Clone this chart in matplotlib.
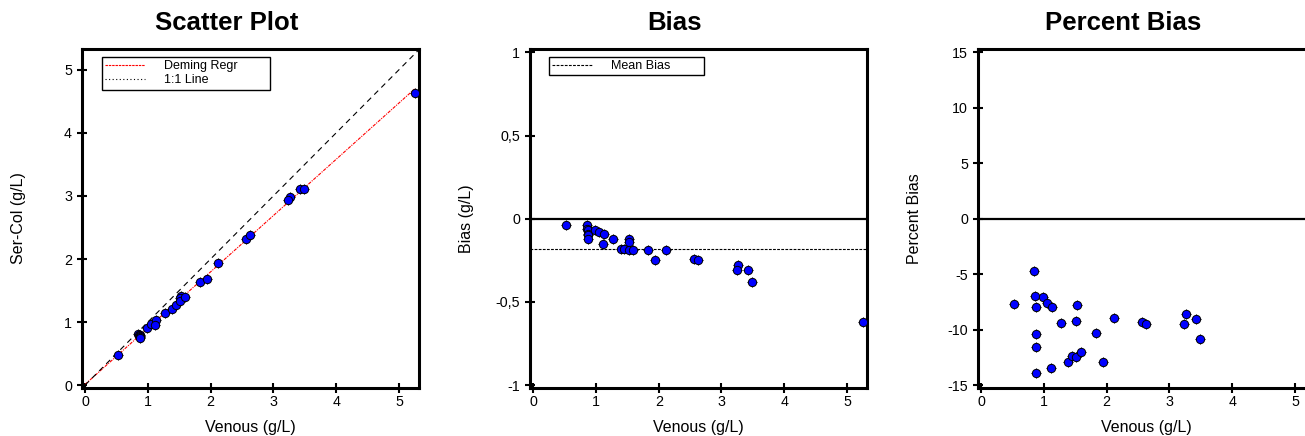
import numpy as np
import matplotlib
matplotlib.use("Agg")
import matplotlib.pyplot as plt
from matplotlib.lines import Line2D
from matplotlib.ticker import FixedLocator, FixedFormatter, AutoMinorLocator

plt.rcParams['font.family'] = ['Liberation Sans', 'DejaVu Sans']
plt.rcParams['axes.unicode_minus'] = False

# ---------------- data ----------------
venous = [0.52, 0.85, 0.86, 0.87, 0.87, 0.87, 0.87, 0.98, 1.05, 1.13,
          1.11, 1.27, 1.53, 1.52, 1.39, 1.45, 1.52, 1.59, 1.83, 1.94,
          2.12, 2.56, 2.63, 3.26, 3.24, 3.42, 3.49, 5.25]
sercol = [0.48, 0.81, 0.80, 0.80, 0.78, 0.77, 0.75, 0.91, 0.97, 1.04,
          0.96, 1.15, 1.41, 1.38, 1.21, 1.27, 1.33, 1.40, 1.64, 1.69,
          1.93, 2.32, 2.38, 2.98, 2.93, 3.11, 3.11, 4.63]
bias = [-0.04, -0.04, -0.06, -0.07, -0.09, -0.10, -0.12, -0.07, -0.08, -0.09,
        -0.15, -0.12, -0.12, -0.14, -0.18, -0.18, -0.19, -0.19, -0.19, -0.25,
        -0.19, -0.24, -0.25, -0.28, -0.31, -0.31, -0.38, -0.62]
pct_bias = [-7.66, -4.69, -6.94, -7.99, -10.43, -11.60, -13.90, -7.09, -7.57, -7.93,
            -13.50, -9.41, -7.81, -9.20, -12.92, -12.41, -12.47, -11.99, -10.34, -12.92,
            -8.93, -9.31, -9.47, -8.57, -9.52, -9.04, -10.88, -11.81]

titles = ["Scatter Plot", "Bias", "Percent Bias"]
xlabel = "Venous (g/L)"
ylabels = ["Ser-Col (g/L)", "Bias (g/L)", "Percent Bias"]
legend1_labels = ["Deming Regr", "1:1 Line"]
legend2_labels = ["Mean Bias"]

x_ticks = [0, 1, 2, 3, 4, 5]
x_ticklabels = ["0", "1", "2", "3", "4", "5"]
y1_ticks = [0, 1, 2, 3, 4, 5]
y1_ticklabels = ["0", "1", "2", "3", "4", "5"]
y2_ticks = [-1, -0.5, 0, 0.5, 1]
y2_ticklabels = ["-1", "-0,5", "0", "0,5", "1"]
y3_ticks = [-15, -10, -5, 0, 5, 10, 15]
y3_ticklabels = ["-15", "-10", "-5", "0", "5", "10", "15"]

x = np.array(venous)
y = np.array(sercol)
b = np.array(bias)
p = np.array(pct_bias)

# Deming regression (lambda = 1)
mx, my = x.mean(), y.mean()
sxx = np.sum((x - mx) ** 2)
syy = np.sum((y - my) ** 2)
sxy = np.sum((x - mx) * (y - my))
slope = (syy - sxx + np.sqrt((syy - sxx) ** 2 + 4 * sxy ** 2)) / (2 * sxy)
intercept = my - slope * mx
mean_bias = b.mean()

# ---------------- figure ----------------
W, H = 1305, 436
fig = plt.figure(figsize=(W / 100, H / 100), dpi=100)

def px_axes(l, r, t, bt):
    return fig.add_axes([l / W, 1 - bt / H, (r - l) / W, (bt - t) / H])

ax1 = px_axes(81.7, 419.0, 49.0, 387.7)
ax2 = px_axes(530.0, 867.0, 49.0, 387.7)
ax3 = px_axes(977.7, 1315.0, 49.0, 387.7)
axes = [ax1, ax2, ax3]

XLIM = (-0.053, 5.32)
ylims = [(-0.04, 5.33), (-1.016, 1.02), (-15.24, 15.3)]
yticks = [(y1_ticks, y1_ticklabels), (y2_ticks, y2_ticklabels), (y3_ticks, y3_ticklabels)]

def points(ax, xs, ys):
    ax.plot(xs, ys, ls='none', marker='+', ms=7.6, mew=0.7, color='black', zorder=3)
    ax.plot(xs, ys, ls='none', marker='o', ms=6.0, mfc='#0000FF', mec='black', mew=0.7, zorder=4)

# Scatter
ax1.plot(np.array([0, x.max()]), intercept + slope * np.array([0, x.max()]),
         color='red', lw=0.8, ls=(0, (3, 1, 1, 1)), zorder=2)
ax1.plot(np.array([0, XLIM[1]]), np.array([0, XLIM[1]]),
         color='black', lw=0.8, ls=(0, (5, 4)), zorder=2)
points(ax1, x, y)

# Bias
ax2.axhline(0, color='black', lw=1.6, zorder=2)
ax2.axhline(mean_bias, color='black', lw=0.8, ls=(0, (2.5, 1.2)), zorder=2)
points(ax2, x, b)

# Percent bias
ax3.axhline(0, color='black', lw=1.6, zorder=2)
points(ax3, x, p)

for i, ax in enumerate(axes):
    ax.set_xlim(*XLIM)
    ax.set_ylim(*ylims[i])
    ax.xaxis.set_major_locator(FixedLocator(x_ticks))
    ax.xaxis.set_major_formatter(FixedFormatter(x_ticklabels))
    ax.yaxis.set_major_locator(FixedLocator(yticks[i][0]))
    ax.yaxis.set_major_formatter(FixedFormatter(yticks[i][1]))
    ax.xaxis.set_minor_locator(AutoMinorLocator(4))
    ax.yaxis.set_minor_locator(AutoMinorLocator(4))
    for s in ax.spines.values():
        s.set_linewidth(2.2)
        s.set_color('black')
    ax.tick_params(which='major', direction='inout', length=7, width=1.5, labelsize=10.3,
                   color='black', labelcolor='black')
    ax.tick_params(axis='x', which='major', pad=1.5)
    ax.tick_params(axis='y', which='major', pad=3.5)
    ax.tick_params(which='minor', direction='out', length=1.1, width=0.8, color='white')
    ax.set_xlabel(xlabel, fontsize=11.5)
    ax.xaxis.set_label_coords(0.5, -0.094)
    ax.set_ylabel(ylabels[i], fontsize=11.5)
    ax.yaxis.set_label_coords(-0.165, 0.5)
    ax.set_title(titles[i], fontsize=18.5, fontweight='bold', x=0.43, pad=14)

leg_kw = dict(loc='upper left', mode='expand', borderaxespad=0, fontsize=9,
              frameon=True, fancybox=False, framealpha=1, edgecolor='black',
              handlelength=3.2, handletextpad=1.5, borderpad=0.25, labelspacing=0.2)
h_dem = Line2D([], [], color='red', lw=0.8, ls=(0, (2.2, 0.8)))
h_id = Line2D([], [], color='black', lw=0.8, ls=(0, (1, 2.2)))
h_mb = Line2D([], [], color='black', lw=0.8, ls=(0, (2.5, 1.2)))
lg1 = ax1.legend([h_dem, h_id], legend1_labels,
                 bbox_to_anchor=(0.0593, 0.881, 0.4987, 0.096), **leg_kw)
lg1.get_frame().set_linewidth(1.0)
lg2 = ax2.legend([h_mb], legend2_labels,
                 bbox_to_anchor=(0.0573, 0.922, 0.4597, 0.055), **leg_kw)
lg2.get_frame().set_linewidth(1.0)

fig.savefig("out.png", dpi=100)
